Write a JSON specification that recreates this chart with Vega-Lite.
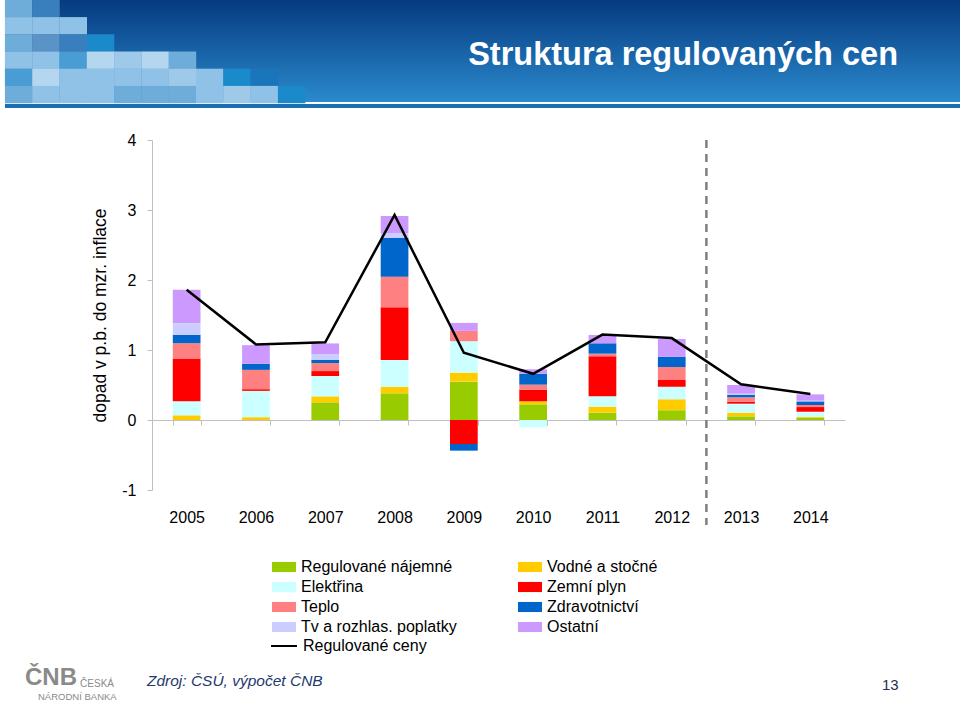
{
  "$schema": "https://vega.github.io/schema/vega-lite/v6.json",
  "width": 693,
  "height": 350,
  "autosize": {"type": "none"},
  "padding": {"left": 152, "top": 140, "right": 115, "bottom": 211},
  "background": "white",
  "config": {"view": {"stroke": null}, "font": "Liberation Sans"},
  "datasets": {
    "bars": [
      {"year": "2005", "cat": "Vodné a stočné", "k": 2, "value": 0.067},
      {"year": "2005", "cat": "Elektřina", "k": 3, "value": 0.2},
      {"year": "2005", "cat": "Zemní plyn", "k": 4, "value": 0.61},
      {"year": "2005", "cat": "Teplo", "k": 5, "value": 0.22},
      {"year": "2005", "cat": "Zdravotnictví", "k": 6, "value": 0.12},
      {"year": "2005", "cat": "Tv a rozhlas. poplatky", "k": 7, "value": 0.167},
      {"year": "2005", "cat": "Ostatní", "k": 8, "value": 0.476},
      {"year": "2006", "cat": "Vodné a stočné", "k": 2, "value": 0.04},
      {"year": "2006", "cat": "Elektřina", "k": 3, "value": 0.376},
      {"year": "2006", "cat": "Zemní plyn", "k": 4, "value": 0.024},
      {"year": "2006", "cat": "Teplo", "k": 5, "value": 0.276},
      {"year": "2006", "cat": "Zdravotnictví", "k": 6, "value": 0.086},
      {"year": "2006", "cat": "Ostatní", "k": 8, "value": 0.267},
      {"year": "2007", "cat": "Regulované nájemné", "k": 1, "value": 0.252},
      {"year": "2007", "cat": "Vodné a stočné", "k": 2, "value": 0.086},
      {"year": "2007", "cat": "Elektřina", "k": 3, "value": 0.29},
      {"year": "2007", "cat": "Zemní plyn", "k": 4, "value": 0.071},
      {"year": "2007", "cat": "Teplo", "k": 5, "value": 0.114},
      {"year": "2007", "cat": "Zdravotnictví", "k": 6, "value": 0.048},
      {"year": "2007", "cat": "Tv a rozhlas. poplatky", "k": 7, "value": 0.081},
      {"year": "2007", "cat": "Ostatní", "k": 8, "value": 0.152},
      {"year": "2008", "cat": "Regulované nájemné", "k": 1, "value": 0.381},
      {"year": "2008", "cat": "Vodné a stočné", "k": 2, "value": 0.095},
      {"year": "2008", "cat": "Elektřina", "k": 3, "value": 0.381},
      {"year": "2008", "cat": "Zemní plyn", "k": 4, "value": 0.752},
      {"year": "2008", "cat": "Teplo", "k": 5, "value": 0.438},
      {"year": "2008", "cat": "Zdravotnictví", "k": 6, "value": 0.557},
      {"year": "2008", "cat": "Tv a rozhlas. poplatky", "k": 7, "value": 0.067},
      {"year": "2008", "cat": "Ostatní", "k": 8, "value": 0.243},
      {"year": "2009", "cat": "Regulované nájemné", "k": 1, "value": 0.548},
      {"year": "2009", "cat": "Vodné a stočné", "k": 2, "value": 0.129},
      {"year": "2009", "cat": "Elektřina", "k": 3, "value": 0.448},
      {"year": "2009", "cat": "Zemní plyn", "k": 4, "value": -0.343},
      {"year": "2009", "cat": "Teplo", "k": 5, "value": 0.148},
      {"year": "2009", "cat": "Zdravotnictví", "k": 6, "value": -0.095},
      {"year": "2009", "cat": "Ostatní", "k": 8, "value": 0.114},
      {"year": "2010", "cat": "Regulované nájemné", "k": 1, "value": 0.224},
      {"year": "2010", "cat": "Vodné a stočné", "k": 2, "value": 0.043},
      {"year": "2010", "cat": "Elektřina", "k": 3, "value": -0.105},
      {"year": "2010", "cat": "Zemní plyn", "k": 4, "value": 0.167},
      {"year": "2010", "cat": "Teplo", "k": 5, "value": 0.071},
      {"year": "2010", "cat": "Zdravotnictví", "k": 6, "value": 0.157},
      {"year": "2010", "cat": "Ostatní", "k": 8, "value": 0.062},
      {"year": "2011", "cat": "Regulované nájemné", "k": 1, "value": 0.105},
      {"year": "2011", "cat": "Vodné a stočné", "k": 2, "value": 0.086},
      {"year": "2011", "cat": "Elektřina", "k": 3, "value": 0.148},
      {"year": "2011", "cat": "Zemní plyn", "k": 4, "value": 0.571},
      {"year": "2011", "cat": "Teplo", "k": 5, "value": 0.038},
      {"year": "2011", "cat": "Zdravotnictví", "k": 6, "value": 0.148},
      {"year": "2011", "cat": "Ostatní", "k": 8, "value": 0.119},
      {"year": "2012", "cat": "Regulované nájemné", "k": 1, "value": 0.138},
      {"year": "2012", "cat": "Vodné a stočné", "k": 2, "value": 0.157},
      {"year": "2012", "cat": "Elektřina", "k": 3, "value": 0.181},
      {"year": "2012", "cat": "Zemní plyn", "k": 4, "value": 0.095},
      {"year": "2012", "cat": "Teplo", "k": 5, "value": 0.186},
      {"year": "2012", "cat": "Zdravotnictví", "k": 6, "value": 0.148},
      {"year": "2012", "cat": "Ostatní", "k": 8, "value": 0.252},
      {"year": "2013", "cat": "Regulované nájemné", "k": 1, "value": 0.052},
      {"year": "2013", "cat": "Vodné a stočné", "k": 2, "value": 0.052},
      {"year": "2013", "cat": "Elektřina", "k": 3, "value": 0.129},
      {"year": "2013", "cat": "Zemní plyn", "k": 4, "value": 0.029},
      {"year": "2013", "cat": "Teplo", "k": 5, "value": 0.062},
      {"year": "2013", "cat": "Zdravotnictví", "k": 6, "value": 0.033},
      {"year": "2013", "cat": "Tv a rozhlas. poplatky", "k": 7, "value": 0.019},
      {"year": "2013", "cat": "Ostatní", "k": 8, "value": 0.124},
      {"year": "2014", "cat": "Regulované nájemné", "k": 1, "value": 0.033},
      {"year": "2014", "cat": "Vodné a stočné", "k": 2, "value": 0.014},
      {"year": "2014", "cat": "Elektřina", "k": 3, "value": 0.071},
      {"year": "2014", "cat": "Zemní plyn", "k": 4, "value": 0.067},
      {"year": "2014", "cat": "Teplo", "k": 5, "value": 0.029},
      {"year": "2014", "cat": "Zdravotnictví", "k": 6, "value": 0.052},
      {"year": "2014", "cat": "Tv a rozhlas. poplatky", "k": 7, "value": 0.01},
      {"year": "2014", "cat": "Ostatní", "k": 8, "value": 0.09}
    ],
    "line": [
      {"year": "2005", "value": 1.86},
      {"year": "2006", "value": 1.08},
      {"year": "2007", "value": 1.11},
      {"year": "2008", "value": 2.93},
      {"year": "2009", "value": 0.96},
      {"year": "2010", "value": 0.66},
      {"year": "2011", "value": 1.22},
      {"year": "2012", "value": 1.17},
      {"year": "2013", "value": 0.51},
      {"year": "2014", "value": 0.37}
    ],
    "mosaic": [
      {"col": 0, "row": 0, "tone": "C"}, {"col": 1, "row": 0, "tone": "E"},
      {"col": 0, "row": 1, "tone": "B"}, {"col": 1, "row": 1, "tone": "B"}, {"col": 2, "row": 1, "tone": "B"},
      {"col": 0, "row": 2, "tone": "C"}, {"col": 1, "row": 2, "tone": "H"}, {"col": 2, "row": 2, "tone": "E"}, {"col": 3, "row": 2, "tone": "F"},
      {"col": 0, "row": 3, "tone": "B"}, {"col": 1, "row": 3, "tone": "B"}, {"col": 2, "row": 3, "tone": "D"}, {"col": 3, "row": 3, "tone": "A"}, {"col": 4, "row": 3, "tone": "I"}, {"col": 5, "row": 3, "tone": "A"}, {"col": 6, "row": 3, "tone": "C"},
      {"col": 0, "row": 4, "tone": "D"}, {"col": 1, "row": 4, "tone": "A"}, {"col": 2, "row": 4, "tone": "B"}, {"col": 3, "row": 4, "tone": "B"}, {"col": 4, "row": 4, "tone": "B"}, {"col": 5, "row": 4, "tone": "B"}, {"col": 6, "row": 4, "tone": "I"}, {"col": 7, "row": 4, "tone": "B"}, {"col": 8, "row": 4, "tone": "F"}, {"col": 9, "row": 4, "tone": "G"},
      {"col": 0, "row": 5, "tone": "C"}, {"col": 1, "row": 5, "tone": "B"}, {"col": 2, "row": 5, "tone": "B"}, {"col": 3, "row": 5, "tone": "B"}, {"col": 4, "row": 5, "tone": "C"}, {"col": 5, "row": 5, "tone": "C"}, {"col": 6, "row": 5, "tone": "C"}, {"col": 7, "row": 5, "tone": "B"}, {"col": 8, "row": 5, "tone": "I"}, {"col": 9, "row": 5, "tone": "B"}, {"col": 10, "row": 5, "tone": "F"}
    ]
  },
  "layer": [
    {
      "layer": [
        {
          "data": {"values": [{}]},
          "mark": {"type": "rect", "fill": {"gradient": "linear", "x1": 0, "y1": 0, "x2": 0, "y2": 1, "stops": [{"offset": 0, "color": "#063a80"}, {"offset": 1, "color": "#2a8acc"}]}},
          "encoding": {
            "x": {"datum": -0.5, "type": "quantitative", "scale": {"domain": [4.8846, 30.269], "zero": false, "nice": false}, "axis": null},
            "x2": {"datum": 34.6},
            "y": {"datum": -0.5, "type": "quantitative", "scale": {"domain": [7.6395, 27.988], "zero": false, "nice": false, "reverse": true}, "axis": null},
            "y2": {"datum": 5.43}
          }
        },
        {
          "data": {"values": [{}]},
          "mark": {"type": "rect", "fill": "#1a6fb3"},
          "encoding": {
            "x": {"datum": -0.5, "type": "quantitative", "scale": {"domain": [4.8846, 30.269], "zero": false, "nice": false}, "axis": null},
            "x2": {"datum": 34.6},
            "y": {"datum": 5.55, "type": "quantitative", "scale": {"domain": [7.6395, 27.988], "zero": false, "nice": false, "reverse": true}, "axis": null},
            "y2": {"datum": 5.78}
          }
        },
        {
          "data": {"name": "mosaic"},
          "mark": {"type": "rect", "width": 27.5, "height": 17.4},
          "encoding": {
            "x": {"field": "col", "type": "quantitative", "scale": {"domain": [4.8846, 30.269], "zero": false, "nice": false}, "axis": null},
            "y": {"field": "row", "type": "quantitative", "scale": {"domain": [7.6395, 27.988], "zero": false, "nice": false, "reverse": true}, "axis": null},
            "color": {"field": "tone", "type": "nominal", "scale": {"domain": ["A", "B", "C", "D", "E", "F", "G", "H", "I"], "range": ["#b4d6ef", "#8fc2e6", "#6eadda", "#4a9cd4", "#3a7fbd", "#1a8acb", "#1a75bb", "#5b93c7", "#9fc9e9"]}, "legend": null}
          }
        },
        {
          "data": {"values": [{}]},
          "mark": {"type": "text", "align": "right", "baseline": "alphabetic", "font": "Liberation Sans Narrow, Liberation Sans, sans-serif", "fontWeight": "bold", "fontSize": 32.5, "color": "white"},
          "encoding": {
            "x": {"datum": 32.21, "type": "quantitative", "scale": {"domain": [4.8846, 30.269], "zero": false, "nice": false}, "axis": null},
            "y": {"datum": 3.3, "type": "quantitative", "scale": {"domain": [7.6395, 27.988], "zero": false, "nice": false, "reverse": true}, "axis": null},
            "text": {"value": "Struktura regulovaných cen"}
          }
        },
        {
          "data": {"values": [{}]},
          "mark": {"type": "text", "align": "left", "baseline": "alphabetic", "font": "Liberation Sans", "fontStyle": "italic", "fontSize": 15.5, "color": "#1f3a6e"},
          "encoding": {
            "x": {"datum": 4.70, "type": "quantitative", "scale": {"domain": [4.8846, 30.269], "zero": false, "nice": false}, "axis": null},
            "y": {"datum": 39.38, "type": "quantitative", "scale": {"domain": [7.6395, 27.988], "zero": false, "nice": false, "reverse": true}, "axis": null},
            "text": {"value": "Zdroj: ČSÚ, výpočet ČNB"}
          }
        },
        {
          "data": {"values": [{}]},
          "mark": {"type": "text", "align": "left", "baseline": "alphabetic", "fontSize": 15, "color": "#1f2f55"},
          "encoding": {
            "x": {"datum": 31.62, "type": "quantitative", "scale": {"domain": [4.8846, 30.269], "zero": false, "nice": false}, "axis": null},
            "y": {"datum": 39.62, "type": "quantitative", "scale": {"domain": [7.6395, 27.988], "zero": false, "nice": false, "reverse": true}, "axis": null},
            "text": {"value": "13"}
          }
        },
        {
          "data": {"values": [{}]},
          "mark": {"type": "text", "align": "left", "baseline": "alphabetic", "fontSize": 24, "fontWeight": "bold", "color": "#8a8a8a", "letterSpacing": -3},
          "encoding": {
            "x": {"datum": 0.233, "type": "quantitative", "scale": {"domain": [4.8846, 30.269], "zero": false, "nice": false}, "axis": null},
            "y": {"datum": 39.35, "type": "quantitative", "scale": {"domain": [7.6395, 27.988], "zero": false, "nice": false, "reverse": true}, "axis": null},
            "text": {"value": "ČNB"}
          }
        },
        {
          "data": {"values": [{}]},
          "mark": {"type": "text", "align": "left", "baseline": "alphabetic", "fontSize": 10, "color": "#8a8a8a"},
          "encoding": {
            "x": {"datum": 2.25, "type": "quantitative", "scale": {"domain": [4.8846, 30.269], "zero": false, "nice": false}, "axis": null},
            "y": {"datum": 39.45, "type": "quantitative", "scale": {"domain": [7.6395, 27.988], "zero": false, "nice": false, "reverse": true}, "axis": null},
            "text": {"value": "ČESKÁ"}
          }
        },
        {
          "data": {"values": [{}]},
          "mark": {"type": "text", "align": "left", "baseline": "alphabetic", "fontSize": 9.5, "color": "#8a8a8a"},
          "encoding": {
            "x": {"datum": 0.709, "type": "quantitative", "scale": {"domain": [4.8846, 30.269], "zero": false, "nice": false}, "axis": null},
            "y": {"datum": 40.2, "type": "quantitative", "scale": {"domain": [7.6395, 27.988], "zero": false, "nice": false, "reverse": true}, "axis": null},
            "text": {"value": "NÁRODNÍ BANKA"}
          }
        }
      ]
    },
    {
      "layer": [
        {
          "data": {"name": "bars"},
          "mark": {"type": "bar"},
          "encoding": {
            "x": {"field": "year", "type": "nominal", "scale": {"paddingInner": 0.6, "paddingOuter": 0.3},
              "axis": {"title": null, "labelAngle": 0, "offset": -70, "domainColor": "#bfbfbf", "tickColor": "#bfbfbf", "tickBand": "extent", "tickSize": 5, "labelPadding": 84, "labelFontSize": 16, "labelColor": "black", "labelFont": "Liberation Sans", "grid": false}},
            "y": {"field": "value", "type": "quantitative", "scale": {"domain": [-1, 4], "nice": false, "zero": false},
              "axis": {"values": [-1, 0, 1, 2, 3, 4], "labelExpr": "'' + datum.value", "title": "dopad v p.b. do mzr. inflace", "titleFont": "Liberation Sans", "titleFontSize": 17.5, "titleFontWeight": "normal", "titleColor": "black", "titlePadding": 12, "labelFontSize": 16, "labelFont": "Liberation Sans", "labelColor": "black", "labelPadding": 11, "tickSize": 5, "domainColor": "#bfbfbf", "tickColor": "#bfbfbf", "gridColor": "#d9d9d9", "gridDash": [3, 3]}},
            "color": {"field": "cat", "type": "nominal",
              "scale": {"domain": ["Regulované nájemné", "Elektřina", "Teplo", "Tv a rozhlas. poplatky", "Vodné a stočné", "Zemní plyn", "Zdravotnictví", "Ostatní"],
                "range": ["#99cc00", "#ccffff", "#ff8080", "#ccccff", "#ffcc00", "#ff0000", "#0066cc", "#cc99ff"]},
              "legend": {"orient": "none", "legendX": 120, "legendY": 415, "columns": 2, "title": null, "padding": 0, "symbolType": "M-1,-0.42H1V0.42H-1Z", "symbolSize": 576, "symbolStrokeWidth": 0, "labelFontSize": 16, "labelFont": "Liberation Sans", "labelColor": "black", "labelLimit": 300, "labelOffset": 5, "columnPadding": 61, "rowPadding": -3, "gridAlign": "all"}},
            "order": {"field": "k", "type": "quantitative"}
          }
        },
        {
          "data": {"values": [{}]},
          "mark": {"type": "rule", "color": "#7f7f7f", "strokeWidth": 2.5, "strokeDash": [8, 6], "xOffset": -20.8},
          "encoding": {
            "x": {"datum": "2013", "type": "nominal", "bandPosition": 0},
            "y": {"datum": 4, "type": "quantitative"},
            "y2": {"datum": -1.5}
          }
        },
        {
          "data": {"name": "line"},
          "mark": {"type": "line", "strokeWidth": 2.5},
          "encoding": {
            "x": {"field": "year", "type": "nominal"},
            "y": {"field": "value", "type": "quantitative"},
            "stroke": {"datum": "Regulované ceny", "type": "nominal", "scale": {"range": ["black"]},
              "legend": {"orient": "none", "legendX": 118, "legendY": 492, "title": null, "padding": 0, "symbolType": "stroke", "symbolSize": 676, "symbolStrokeWidth": 2, "labelFontSize": 16, "labelFont": "Liberation Sans", "labelColor": "black", "labelOffset": 5}}
          }
        }
      ]
    }
  ],
  "resolve": {"scale": {"x": "independent", "y": "independent", "color": "independent"}}
}
